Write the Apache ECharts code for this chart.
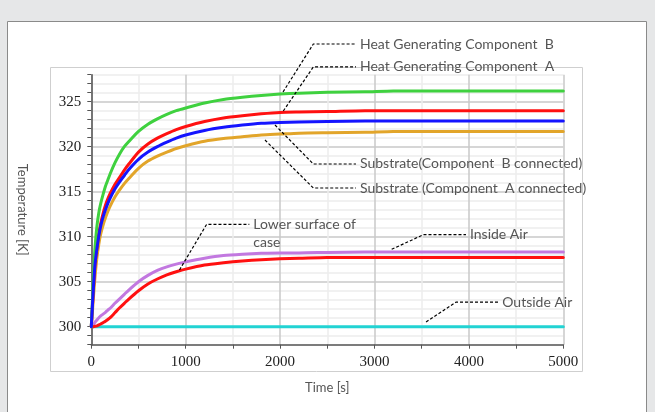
<!DOCTYPE html>
<html>
<head>
<meta charset="utf-8">
<script src="https://cdn.jsdelivr.net/npm/echarts@6/dist/echarts.min.js"></script>
<style>
html,body{margin:0;padding:0;background:#e6e7e8;}
#chart{width:655px;height:412px;}
</style>
</head>
<body>
<div id="chart"></div>
<script>
// ---- data ----
const times = [0, 10, 20, 30, 40, 60, 80, 100, 125, 150, 175, 200, 250, 300, 350, 400, 500, 600, 700, 800, 900, 1000, 1200, 1400, 1600, 1800, 2000, 2200, 2500, 2900, 3200, 3600, 4000, 4500, 5000];
const heatCompB    = [300, 302.5, 305.0, 307.2, 308.9, 311.2, 312.7, 313.7, 314.7, 315.6, 316.3, 317.0, 318.2, 319.2, 320.0, 320.6, 321.7, 322.5, 323.1, 323.6, 324.0, 324.3, 324.85, 325.25, 325.5, 325.7, 325.85, 325.95, 326.05, 326.1, 326.2, 326.2, 326.2, 326.2, 326.2];
const heatCompA    = [300, 301.9, 303.8, 305.5, 307.0, 308.8, 310.4, 311.5, 312.6, 313.5, 314.2, 314.8, 315.8, 316.6, 317.4, 318.1, 319.4, 320.3, 320.95, 321.45, 321.9, 322.25, 322.8, 323.2, 323.45, 323.65, 323.8, 323.85, 323.9, 324.0, 324.0, 324.0, 324.0, 324.0, 324.0];
const substrateB   = [300, 302.0, 303.9, 305.6, 307.0, 308.7, 310.1, 311.2, 312.2, 313.0, 313.7, 314.3, 315.3, 316.1, 316.8, 317.5, 318.6, 319.4, 320.0, 320.5, 320.95, 321.3, 321.8, 322.15, 322.4, 322.6, 322.7, 322.75, 322.8, 322.85, 322.85, 322.85, 322.85, 322.85, 322.85];
const substrateA   = [300, 301.4, 302.9, 304.3, 305.6, 307.7, 309.2, 310.3, 311.3, 312.1, 312.8, 313.4, 314.4, 315.2, 315.9, 316.5, 317.6, 318.4, 318.95, 319.4, 319.8, 320.1, 320.6, 320.9, 321.1, 321.3, 321.4, 321.5, 321.55, 321.6, 321.7, 321.7, 321.7, 321.7, 321.7];
const insideAir    = [300, 300.1, 300.2, 300.35, 300.5, 300.75, 301.0, 301.2, 301.4, 301.6, 301.85, 302.05, 302.6, 303.1, 303.6, 304.1, 305.0, 305.7, 306.25, 306.65, 306.95, 307.2, 307.6, 307.9, 308.05, 308.15, 308.2, 308.2, 308.25, 308.3, 308.3, 308.3, 308.3, 308.3, 308.3];
const lowerSurface = [300, 300, 300, 300.02, 300.05, 300.1, 300.2, 300.3, 300.45, 300.6, 300.8, 301.0, 301.55, 302.1, 302.6, 303.1, 304.0, 304.75, 305.3, 305.75, 306.1, 306.4, 306.85, 307.1, 307.3, 307.45, 307.55, 307.6, 307.7, 307.7, 307.7, 307.7, 307.7, 307.7, 307.7];
const outsideAir   = [300, 300, 300, 300, 300, 300, 300, 300, 300, 300, 300, 300, 300, 300, 300, 300, 300, 300, 300, 300, 300, 300, 300, 300, 300, 300, 300, 300, 300, 300, 300, 300, 300, 300, 300];

const xTickLabels = [0, 1000, 2000, 3000, 4000, 5000];
const yTickLabels = [300, 305, 310, 315, 320, 325];

// annotation texts with anchor (on curve), elbow and end points in data coords [time, temperature]
const annotTexts   = ['Heat Generating Component  B', 'Heat Generating Component  A', 'Substrate(Component  B connected)', 'Substrate (Component  A connected)', 'Lower surface of\ncase', 'Inside Air', 'Outside Air'];
const annotAnchors = [[2031, 326.08], [2034, 323.97], [1946, 322.41], [1840, 320.74], [934, 306.3], [3182, 308.6], [3546, 300.52]];
const annotElbows  = [[2352, 331.41], [2352, 328.86], [2352, 318.08], [2352, 315.41], [1222, 311.38], [3517, 310.22], [3864, 302.74]];
const annotEnds    = [2804, 2804, 2804, 2804, 1674, 3969, 4311];

// ---- chart ----
const chart = echarts.init(document.getElementById('chart'), null, {renderer: 'canvas'});
const pair = arr => times.map((t, i) => [t, arr[i]]);
const mk = (name, arr, color, z) => ({
  name, type: 'line', data: pair(arr), showSymbol: false, smooth: 0.25,
  lineStyle: {color, width: 3, join: 'round', cap: 'round'}, itemStyle: {color}, z, animation: false
});

const majorGrid = '#c9c9c9', minorGrid = '#ececec';
chart.setOption({
  backgroundColor: 'transparent',
  animation: false,
  grid: {left: 91.3, right: 91.7, top: 74.7, bottom: 67.3},
  xAxis: {
    type: 'value', min: 0, max: 5000, interval: 500,
    name: 'Time [s]', nameLocation: 'middle', nameGap: 37,
    nameTextStyle: {fontFamily: 'Lato', fontSize: 13, color: '#555'},
    axisLine: {show: true, lineStyle: {color: '#555', width: 1.5}},
    axisTick: {show: true, length: 4, lineStyle: {color: '#555'}},
    axisLabel: {fontFamily: 'Liberation Serif', fontSize: 15, color: '#222', margin: 10,
      formatter: v => xTickLabels.includes(v) ? String(v) : ''},
    splitLine: {show: true, lineStyle: {color: [majorGrid, minorGrid], width: 1.5}}
  },
  yAxis: {
    type: 'value', min: 298, max: 328, interval: 1,
    name: 'Temperature [K]', nameLocation: 'middle', nameGap: 63, nameRotate: -90,
    nameTextStyle: {fontFamily: 'Lato', fontSize: 13, color: '#555'},
    axisLine: {show: true, lineStyle: {color: '#555', width: 1.5}},
    axisTick: {show: true, length: 4, lineStyle: {color: '#555'}},
    axisLabel: {fontFamily: 'Liberation Serif', fontSize: 15, color: '#222', margin: 10,
      formatter: v => yTickLabels.includes(v) ? String(v) : ''},
    splitLine: {show: true, lineStyle: {color: [minorGrid, minorGrid, majorGrid, minorGrid, minorGrid], width: 1.5}}
  },
  series: [
    mk('Outside Air', outsideAir, '#22d3d3', 2),
    mk('Inside Air', insideAir, '#c278e0', 3),
    mk('Lower surface of case', lowerSurface, '#ff1010', 4),
    mk('Substrate (Component A connected)', substrateA, '#e2a52a', 5),
    mk('Heat Generating Component A', heatCompA, '#ff1010', 6),
    mk('Heat Generating Component B', heatCompB, '#3fd13f', 7),
    mk('Substrate(Component B connected)', substrateB, '#1414ff', 8)
  ]
});

// frames and annotations
const px = p => chart.convertToPixel({gridIndex: 0}, p);
const elements = [
  {type: 'rect', shape: {x: 7.5, y: 21.5, width: 639, height: 400}, style: {fill: '#fff', stroke: '#8a8a8a', lineWidth: 1}, z: -100, silent: true},
  {type: 'rect', shape: {x: 50.5, y: 67.5, width: 532, height: 304}, style: {fill: 'none', stroke: '#cfcfcf', lineWidth: 1}, z: -90, silent: true}
];
annotTexts.forEach((txt, i) => {
  const a = px(annotAnchors[i]);
  const e = px(annotElbows[i]);
  const f = px([annotEnds[i], annotElbows[i][1]]);
  elements.push({
    type: 'polyline', shape: {points: [a, e, f]},
    style: {stroke: '#000', lineWidth: 1.2, lineDash: [3, 2], fill: 'none'}, z: 100, silent: true
  });
  const multi = txt.indexOf('\n') >= 0;
  elements.push({
    type: 'text', x: f[0] + 4, y: multi ? e[1] - 9 : e[1],
    style: {text: txt, fill: '#555', font: '14px Lato', textAlign: 'left',
      textVerticalAlign: multi ? 'top' : 'middle', lineHeight: 18},
    z: 100, silent: true
  });
});
chart.setOption({graphic: {elements}});
</script>
</body>
</html>
